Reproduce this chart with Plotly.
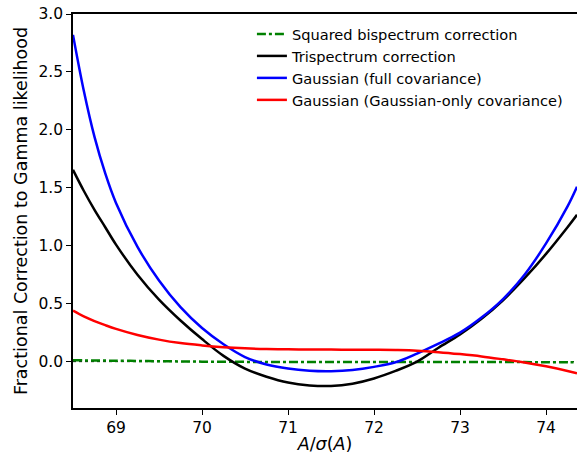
import plotly.graph_objects as go

x = [68.5, 68.625, 68.75, 68.875, 69.0, 69.25, 69.5, 69.75, 70.0, 70.25, 70.5, 70.75, 71.0,
     71.25, 71.5, 71.75, 72.0, 72.25, 72.5, 72.75, 73.0, 73.25, 73.5, 73.75, 74.0, 74.25, 74.36]

bispec = [0.012, 0.011, 0.010, 0.009, 0.008, 0.006, 0.004, 0.002, 0.0, -0.001, -0.002, -0.003, -0.003,
          -0.003, -0.003, -0.003, -0.003, -0.003, -0.003, -0.003, -0.003, -0.004, -0.004, -0.004, -0.005, -0.005, -0.005]

trispec = [1.655, 1.475, 1.31, 1.16, 1.01, 0.75, 0.535, 0.355, 0.195, 0.05, -0.06, -0.13, -0.18,
           -0.205, -0.21, -0.19, -0.145, -0.08, 0.0, 0.12, 0.235, 0.37, 0.53, 0.72, 0.93, 1.16, 1.267]

gauss_full = [2.82, 2.34, 1.94, 1.625, 1.37, 0.99, 0.70, 0.47, 0.29, 0.15, 0.04, -0.025, -0.06,
              -0.078, -0.082, -0.072, -0.045, -0.005, 0.07, 0.155, 0.25, 0.38, 0.54, 0.75, 1.02, 1.34, 1.51]

gauss_only = [0.44, 0.39, 0.35, 0.315, 0.283, 0.23, 0.19, 0.16, 0.14, 0.125, 0.115, 0.109, 0.106,
              0.105, 0.104, 0.103, 0.102, 0.10, 0.095, 0.082, 0.065, 0.045, 0.02, -0.007, -0.04, -0.08, -0.10]

zero_line = [0.0] * len(x)

fig = go.Figure()
fig.add_trace(go.Scatter(x=x, y=zero_line, mode="lines", showlegend=False,
                         line=dict(color="black", width=1, dash="dot")))
fig.add_trace(go.Scatter(x=x, y=bispec, mode="lines", name="Squared bispectrum correction",
                         line=dict(color="green", width=2.5, dash="dashdot", shape="spline")))
fig.add_trace(go.Scatter(x=x, y=trispec, mode="lines", name="Trispectrum correction",
                         line=dict(color="black", width=2.5, shape="spline")))
fig.add_trace(go.Scatter(x=x, y=gauss_full, mode="lines", name="Gaussian (full covariance)",
                         line=dict(color="blue", width=2.5, shape="spline")))
fig.add_trace(go.Scatter(x=x, y=gauss_only, mode="lines", name="Gaussian (Gaussian-only covariance)",
                         line=dict(color="red", width=2.5, shape="spline")))

fig.update_layout(
    width=577, height=454,
    margin=dict(l=73, r=0, t=14, b=46),
    plot_bgcolor="white", paper_bgcolor="white",
    font=dict(family="DejaVu Sans", size=15.5, color="black"),
    legend=dict(x=0.355, y=0.99, xanchor="left", yanchor="top",
                bgcolor="rgba(0,0,0,0)", font=dict(size=14.6), tracegroupgap=0,
                itemwidth=30),
    xaxis=dict(range=[68.5, 74.36], dtick=1, tick0=69, showgrid=False, zeroline=False,
               showline=True, linecolor="black", linewidth=1.5, mirror=True,
               ticks="outside", ticklen=5, tickwidth=1.2, tickcolor="black",
               title=dict(text="<i>A</i>/<i>σ</i>(<i>A</i>)", standoff=0, font=dict(size=17.5))),
    yaxis=dict(range=[-0.4, 3.0], dtick=0.5, tick0=0, tickformat=".1f", showgrid=False,
               zeroline=False, showline=True, linecolor="black", linewidth=1.5,
               ticks="outside", ticklen=5, tickwidth=1.2, tickcolor="black",
               title=dict(text="Fractional Correction to Gamma likelihood", standoff=6,
                          font=dict(size=17.5))),
)

fig.write_html("out.html")
